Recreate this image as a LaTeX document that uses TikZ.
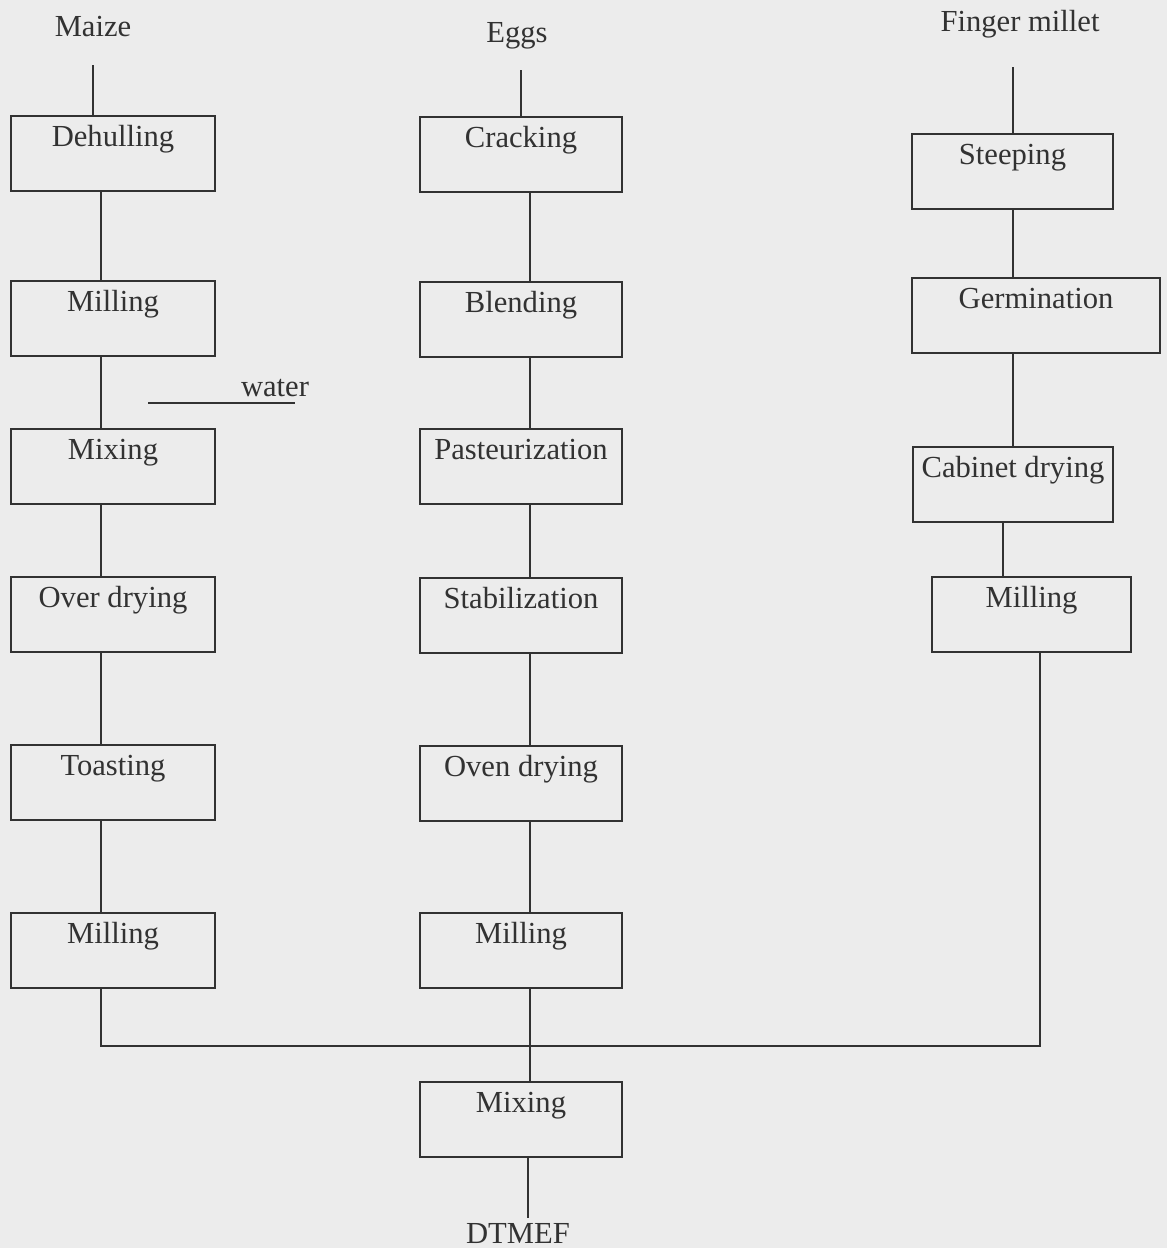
\documentclass[tikz,border=0pt]{standalone}
\definecolor{PaperGray}{RGB}{236,236,236}
\definecolor{InkGray}{RGB}{50,50,50}
\usepackage{fontspec}
\setmainfont{Liberation Serif}
\usepackage{tikz}
\usetikzlibrary{positioning, calc}

\begin{document}
\begin{tikzpicture}[x=0.5pt, y=-0.5pt, line width=1pt, InkGray,
    stepbox/.style={draw, rectangle, inner sep=0pt, minimum width=102pt,
        text height=15pt, text depth=22.5pt, text=InkGray},
    every node/.style={font=\fontsize{15.3}{18}\selectfont}]
      \fill[PaperGray] (0,0) rectangle (1167,1248);
      \useasboundingbox (0,0) rectangle (1167,1248);

      % raw materials
      \node[anchor=base] (maize) at (93,36) {Maize};
      \node[anchor=base] (eggs) at (517,42) {Eggs};
      \node[anchor=base] (millet) at (1020,31) {Finger millet};
      \coordinate (maizetop) at (93,65);
      \coordinate (eggstop) at (521,70);
      \coordinate (millettop) at (1013,67);

      % maize line
      \node[stepbox] (dehull) at (113,153.5) {Dehulling};
      \node[stepbox] (millA) at (113,318.5) {Milling};
      \node[stepbox] (mixA) at (113,466.5) {Mixing};
      \node[stepbox] (overdry) at (113,614.5) {Over drying};
      \node[stepbox] (toast) at (113,782.5) {Toasting};
      \node[stepbox] (millB) at (113,950.5) {Milling};

      % egg line
      \node[stepbox, minimum width=101pt] (crack) at (521,154.5) {Cracking};
      \node[stepbox, minimum width=101pt] (blend) at (521,319.5) {Blending};
      \node[stepbox, minimum width=101pt] (pasteur) at (521,466.5) {Pasteurization};
      \node[stepbox, minimum width=101pt] (stab) at (521,615.5) {Stabilization};
      \node[stepbox, minimum width=101pt] (ovendry) at (521,783.5) {Oven drying};
      \node[stepbox, minimum width=101pt] (millC) at (521,950.5) {Milling};
      \node[stepbox, minimum width=101pt] (mixB) at (521,1119.5) {Mixing};
      \node[anchor=base, inner sep=2pt] (dtmef) at (518,1243) {DTMEF};

      % finger millet line
      \node[stepbox, minimum width=100.5pt] (steep) at (1012.5,171.5) {Steeping};
      \node[stepbox, minimum width=124pt] (germ) at (1036,315.5) {Germination};
      \node[stepbox, minimum width=100pt] (cabdry) at (1013,484.5) {Cabinet drying};
      \node[stepbox, minimum width=99.5pt] (millD) at (1031.5,614.5) {Milling};

      % water added before mixing
      \node[anchor=base] (water) at (275,396) {water};
      \coordinate (waterin) at (148,403);
      \coordinate (waterend) at (295,403);
      \draw (waterin) -- (waterend);

      % connectors, maize
      \draw (maizetop) -- (maizetop |- dehull.north);
      \draw ([xshift=-6pt]dehull.south) -- ([xshift=-6pt]millA.north);
      \draw ([xshift=-6pt]millA.south) -- ([xshift=-6pt]mixA.north);
      \draw ([xshift=-6pt]mixA.south) -- ([xshift=-6pt]overdry.north);
      \draw ([xshift=-6pt]overdry.south) -- ([xshift=-6pt]toast.north);
      \draw ([xshift=-6pt]toast.south) -- ([xshift=-6pt]millB.north);

      % connectors, eggs
      \draw (eggstop) -- (eggstop |- crack.north);
      \draw ([xshift=4.5pt]crack.south) -- ([xshift=4.5pt]blend.north);
      \draw ([xshift=4.5pt]blend.south) -- ([xshift=4.5pt]pasteur.north);
      \draw ([xshift=4.5pt]pasteur.south) -- ([xshift=4.5pt]stab.north);
      \draw ([xshift=4.5pt]stab.south) -- ([xshift=4.5pt]ovendry.north);
      \draw ([xshift=4.5pt]ovendry.south) -- ([xshift=4.5pt]millC.north);

      % connectors, finger millet
      \draw (millettop) -- (millettop |- steep.north);
      \draw (millettop |- steep.south) -- (millettop |- germ.north);
      \draw (millettop |- germ.south) -- (millettop |- cabdry.north);
      \draw ([xshift=-5pt]cabdry.south) -- ([xshift=-5pt]cabdry.south |- millD.north);

      % all three flours join
      \coordinate (merge) at (530,1046);
      \draw ([xshift=-6pt]millB.south) |- (merge) -| ([xshift=4.25pt]millD.south);
      \draw ([xshift=4.5pt]millC.south) -- ([xshift=4.5pt]mixB.north);
      \draw ([xshift=3.5pt]mixB.south) -- ([xshift=3.5pt]mixB.south |- dtmef.north);
\end{tikzpicture}
\end{document}
